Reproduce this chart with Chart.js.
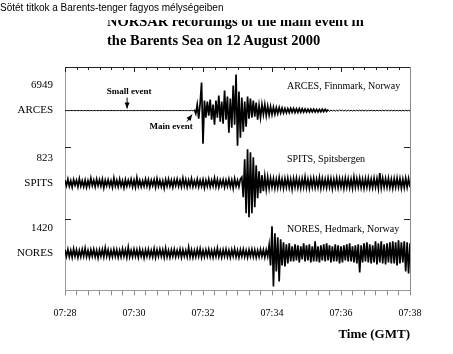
<!DOCTYPE html>
<html>
<head>
<meta charset="utf-8">
<script src="https://cdn.jsdelivr.net/npm/chart.js@4.4.0/dist/chart.umd.min.js"></script>
<style>
  body { margin: 0; background: #fff; }
  #wrap { position: relative; width: 453px; height: 354px; }
  #chart { position: absolute; left: 0; top: 0; }
  #sub { position: absolute; left: 0; top: 1px; font: 10px "Liberation Sans", Arial, sans-serif; line-height: 14px; color: #000; white-space: nowrap; }
  #clip { position: absolute; left: 107px; top: 20px; width: 340px; height: 32px; overflow: hidden; }
  #title { position: relative; top: -8.4px; font: bold 14.5px "Liberation Serif", "Times New Roman", serif; line-height: 19px; color: #000; white-space: nowrap; }
</style>
</head>
<body>
<div id="wrap">
  <canvas id="chart" width="453" height="354"></canvas>
  <div id="sub">Sötét titkok a Barents-tenger fagyos mélységeiben</div>
  <div id="clip"><div id="title">NORSAR recordings of the main event in<br>the Barents Sea on 12 August 2000</div></div>
</div>
<script>
const stations = ['ARCES', 'SPITS', 'NORES'];
const peakCounts = ['6949', '823', '1420'];
const stationPlaces = ['ARCES, Finnmark, Norway', 'SPITS, Spitsbergen', 'NORES, Hedmark, Norway'];
const timeLabels = ['07:28', '07:30', '07:32', '07:34', '07:36', '07:38'];
const sampleSec = 2.5; // one reading every 2.5 s from 07:28:00

// trace readings (relative amplitude)
const arces = [
  0.1,-0.1,0.1,-0.1,0.1,-0.1,0.1,-0.1,0.1,-0.1,
  0.1,-0.1,0.1,-0.1,0.1,-0.1,0.1,-0.1,0.1,-0.1,
  0.1,-0.1,0.1,-0.1,0.1,-0.1,0.1,-0.1,0.1,-0.1,
  0.1,-0.1,0.1,-0.1,0.1,-0.1,0.1,-0.1,0.1,-0.1,
  0.1,-0.1,0.1,-0.1,0.1,-0.1,0.1,-0.1,0.1,-0.1,
  0.1,-0.1,0.1,-0.1,0.1,-0.1,0.1,-0.1,0.1,-0.1,
  0.1,-0.1,0.1,-0.1,0.1,-0.1,0.1,-0.1,0.1,-0.1,
  0.1,-0.1,0.1,-0.1,0.1,-0.1,0.1,-0.1,0.1,-0.1,
  0.1,-0.1,0.1,-0.1,0.1,-0.1,0.1,-0.2,0.3,-0.4,
  0.8,-3,6,-8,7,28,-33,10,-7,9,
  -5,11,-9,6,-14,10,-7,15,-11,9,
  -13,20,-9,14,-22,12,-17,25,-14,36,
  -35,19,-27,13,-21,9,-16,14,-8,12,
  -7,10,-6,8,-9,5,-7,6,-4,6,
  -5,4.5,-4.5,4,-4,3.5,-3.5,3,-3,3,
  -2.5,2.5,-2.5,2,-2.2,2,-2,2.2,-1.8,2,
  -2,1.8,-1.8,2,-1.6,1.8,-1.5,1.6,-1.5,1.4,
  -1.5,1.4,-1.3,1.5,-1.3,1.2,-1.4,1.2,-1.2,1.3,
  -1.1,1.2,-1,1,-0.9,
  0.6,-0.5,0.5,-0.6,0.4,-0.5,0.6,-0.4,0.5,-0.5,
  0.4,-0.5,0.5,-0.4,0.4,-0.5,0.4,-0.4,0.5,-0.4,
  0.4,-0.3,0.4,-0.4,0.3,-0.4,0.3,-0.3,0.4,-0.3,
  0.3,-0.3,0.3,-0.3,0.3,-0.3,0.3,-0.3,0.3,-0.3,
  0.3,-0.3,0.3,-0.3,0.3,-0.3,0.3,-0.3,0.3,-0.3,
  0.3,-0.3,0.3,-0.3,0.3,-0.3
];
const spits = [
  3,-2.5,4,-3,2.5,-4,3.5,-2,3,-3.5,
  4.5,-3,2.5,-3.5,3,-4,2.5,-3,5,-2.5,
  3,-3.5,4,-2.5,3.5,-3,4,-4.5,3,-2.5,
  3.5,-3,2.5,-4,5,-3,3,-3.5,4,-3,
  2.5,-4.5,3.5,-3,3,-2.5,4,-3.5,3,-4,
  5.5,-3,3,-3.5,2.5,-3,4,-3,3.5,-4,
  3,-2.5,3.5,-4,4.5,-3,3,-3.5,2.5,-5,
  3.5,-3,4,-3,3,-4,3.5,-2.5,4,-3,
  3,-3.5,5,-3,3.5,-4,3,-3,4.5,-3.5,
  2.5,-3,4,-3.5,3,-3,3.5,-4.5,3,-3,
  4,-3.5,3,-3,5,-3.5,3.5,-4,3,-2.5,
  3.5,-4,3,-3,4,-3.5,3,-5,4.5,-3,
  3,-3.5,4,
  6,-14,24,-30,34,-34,31,-30,26,-24,
  18,-15,12,-10,8,-8,7,-6,6,-5,
  5,-4,4.5,-5,4,-4.5,5.5,-4,4,-5,
  4.5,-4,5,-4.5,4,-6,4.5,-4,5,-4.5,
  4,-5,4.5,-4,6,-4.5,4,-5,4.5,-4,
  5,-4.5,4,-4,5.5,-5,4.5,-4,4,-4.5,
  5,-4,4.5,-5.5,4,-4,5,-4.5,4.5,-4,
  4,-5,5,-4,4.5,-4.5,4,-5,6,-4,
  4.5,-4,5,-4.5,4,-5,4.5,-4,5,-4.5,
  4,-4.5,5,-4,4.5,-5,10,-4.5,5,-4,
  4.5,-4,5,-4.5,4,-5,4.5,-4,5,-4,
  4.5,-5,4,-4.5,5,-4,4.5,-4
];
const nores = [
  3.5,-3,4,-3.5,3,-4,4.5,-3,3.5,-4,
  3,-3.5,4,-3,5,-3.5,3,-4,3.5,-3,
  4,-3.5,3,-4.5,3.5,-3,4,-3.5,5.5,-3,
  3.5,-4,3,-3.5,4,-3,3.5,-4,3,-3.5,
  4.5,-3,3.5,-4,6,-3.5,3,-3.5,4,-3,
  3.5,-4,4,-3,3,-4.5,3.5,-3,4,-3.5,
  3,-3.5,4.5,-4,3.5,-3,4,-3,3.5,-4,
  5,-3.5,3,-4,3.5,-3,4,-3.5,3,-3,
  4,-4,3.5,-3,3,-3.5,6,-3.5,3.5,-4,
  3,-3.5,4,-3,4.5,-4,3,-3.5,3.5,-3,
  4,-3.5,3,-4,3.5,-3,5,-3.5,3,-4,
  3.5,-3,4,-3.5,3,-4,3.5,-3,4.5,-3.5,
  3,-4,3.5,-3,4,-3.5,3,-4,3.5,-3,
  4,-3.5,3.5,-4,3,-3.5,4,-3,3.5,-4,
  3.5,-3,
  8,-12,27,-33,20,-18,16,-28,14,-12,
  11,-13,9,-10,10,-8,
  7,-8,9,-7,8,-9,7,-6,10,-8,
  8,-7,9,-9,7,-8,12,-8,7,-9,
  8,-7,9,-8,10,-7,8,-9,7,-8,
  9,-8,8,-10,7,-9,8,-7,9,-8,
  10,-8,7,-9,8,-10,9,-19,8,-9,
  10,-8,11,-9,9,-10,8,-9,12,-11,
  10,-9,12,-10,9,-11,10,-9,11,-10,
  12,-10,11,-12,13,-10,11,-9,12,-18,
  11,-20,10
];

const eventNames = ['Small event', 'Main event'];
const eventTimes = [108, 221]; // seconds after 07:28
const placeTime = 386;

const serif = '"Liberation Serif", "Times New Roman", serif';

function toPoints(arr) {
  return arr.map((v, i) => ({ x: i * sampleSec, y: v }));
}

function stationAxis(idx, min, max, weight) {
  return {
    type: 'linear',
    position: 'left',
    stack: 'traces',
    stackWeight: weight,
    min: min,
    max: max,
    afterBuildTicks: s => { s.ticks = [{ value: 0 }, { value: 25 }]; },
    afterFit: s => { s.width = 65; },
    ticks: {
      padding: 12,
      color: '#000',
      font: { family: serif, size: 11 },
      callback: v => (v === 0 ? stations[idx] : peakCounts[idx])
    },
    grid: { drawOnChartArea: false, drawTicks: false },
    border: { color: '#9a9a9a' }
  };
}

function arrow(ctx, x0, y0, x1, y1) {
  const a = Math.atan2(y1 - y0, x1 - x0);
  ctx.beginPath();
  ctx.moveTo(x0, y0);
  ctx.lineTo(x1, y1);
  ctx.stroke();
  ctx.beginPath();
  ctx.moveTo(x1, y1);
  ctx.lineTo(x1 - 6 * Math.cos(a) + 2.5 * Math.sin(a), y1 - 6 * Math.sin(a) - 2.5 * Math.cos(a));
  ctx.lineTo(x1 - 6 * Math.cos(a) - 2.5 * Math.sin(a), y1 - 6 * Math.sin(a) + 2.5 * Math.cos(a));
  ctx.closePath();
  ctx.fill();
}

const framePlugin = {
  id: 'frame',
  afterDraw(chart) {
    const { ctx, chartArea: a, scales } = chart;
    ctx.save();
    ctx.lineWidth = 1;
    ctx.strokeStyle = '#222';
    ctx.beginPath();
    ctx.moveTo(a.left, a.top + 0.5);
    ctx.lineTo(a.right, a.top + 0.5);
    scales.x.ticks.forEach(t => {
      const px = Math.round(scales.x.getPixelForValue(t.value)) + 0.5;
      ctx.moveTo(px, a.top);
      ctx.lineTo(px, a.top + (t.value % 120 === 0 ? 5 : 3));
    });
    [scales.yA.bottom, scales.yS.bottom].forEach(y => {
      const py = Math.round(y) + 0.5;
      ctx.moveTo(a.left, py);
      ctx.lineTo(a.left + 6, py);
      ctx.moveTo(a.right - 6, py);
      ctx.lineTo(a.right, py);
    });
    ctx.stroke();
    ctx.strokeStyle = '#8a8a8a';
    ctx.beginPath();
    ctx.moveTo(Math.round(a.right) + 0.5, a.top);
    ctx.lineTo(Math.round(a.right) + 0.5, a.bottom);
    ctx.stroke();
    ctx.restore();
  }
};

const annotatePlugin = {
  id: 'annotate',
  afterDatasetsDraw(chart) {
    const { ctx, scales } = chart;
    const x = scales.x;
    const yIds = ['yA', 'yS', 'yN'];
    ctx.save();
    ctx.fillStyle = '#000';
    ctx.strokeStyle = '#000';
    ctx.lineWidth = 1;
    ctx.font = '10px ' + serif;
    ctx.textAlign = 'left';
    ctx.textBaseline = 'middle';
    stationPlaces.forEach((txt, i) => {
      ctx.fillText(txt, x.getPixelForValue(placeTime), scales[yIds[i]].getPixelForValue(24));
    });

    ctx.font = 'bold 9px ' + serif;
    ctx.textAlign = 'center';
    const base = scales.yA.getPixelForValue(0);
    let px = x.getPixelForValue(eventTimes[0]);
    ctx.fillText(eventNames[0], px + 2, base - 19);
    arrow(ctx, px, base - 13, px, base - 2);
    px = x.getPixelForValue(eventTimes[1]);
    ctx.fillText(eventNames[1], px - 21, base + 16);
    arrow(ctx, px - 5, base + 11, px, base + 4);
    ctx.restore();
  }
};

function trace(data, axis) {
  return {
    data: toPoints(data),
    yAxisID: axis,
    borderColor: '#000',
    borderWidth: 1.7,
    pointRadius: 0,
    tension: 0,
    fill: false,
    // quiet stretches stay a hairline, busy stretches fill in
    segment: {
      borderWidth: c => (Math.abs(c.p0.parsed.y) + Math.abs(c.p1.parsed.y) < 2 ? 1 : 1.7)
    }
  };
}

new Chart(document.getElementById('chart'), {
  type: 'line',
  data: {
    datasets: [
      trace(arces, 'yA'),
      trace(spits, 'yS'),
      trace(nores, 'yN')
    ]
  },
  options: {
    responsive: false,
    animation: false,
    layout: { padding: { top: 67, right: 43, bottom: 12, left: 0 } },
    plugins: {
      legend: { display: false },
      tooltip: { enabled: false },
      title: { display: false }
    },
    scales: {
      x: {
        type: 'linear',
        min: 0,
        max: 600,
        ticks: {
          stepSize: 20,
          autoSkip: false,
          maxRotation: 0,
          padding: 12,
          color: '#000',
          font: { family: serif, size: 10 },
          callback: v => (v % 120 === 0 ? timeLabels[v / 120] : '')
        },
        grid: { drawOnChartArea: false, tickLength: 5, color: '#8a8a8a' },
        border: { color: '#9a9a9a' },
        title: {
          display: true,
          text: 'Time (GMT)',
          align: 'end',
          color: '#000',
          font: { family: serif, size: 13, weight: 'bold' },
          padding: { top: -5, bottom: 0 }
        }
      },
      // stacked from the bottom up
      yN: stationAxis(2, -37, 34, 71),
      yS: stationAxis(1, -36, 36, 72),
      yA: stationAxis(0, -36.5, 43.5, 80)
    }
  },
  plugins: [framePlugin, annotatePlugin]
});
</script>
</body>
</html>
